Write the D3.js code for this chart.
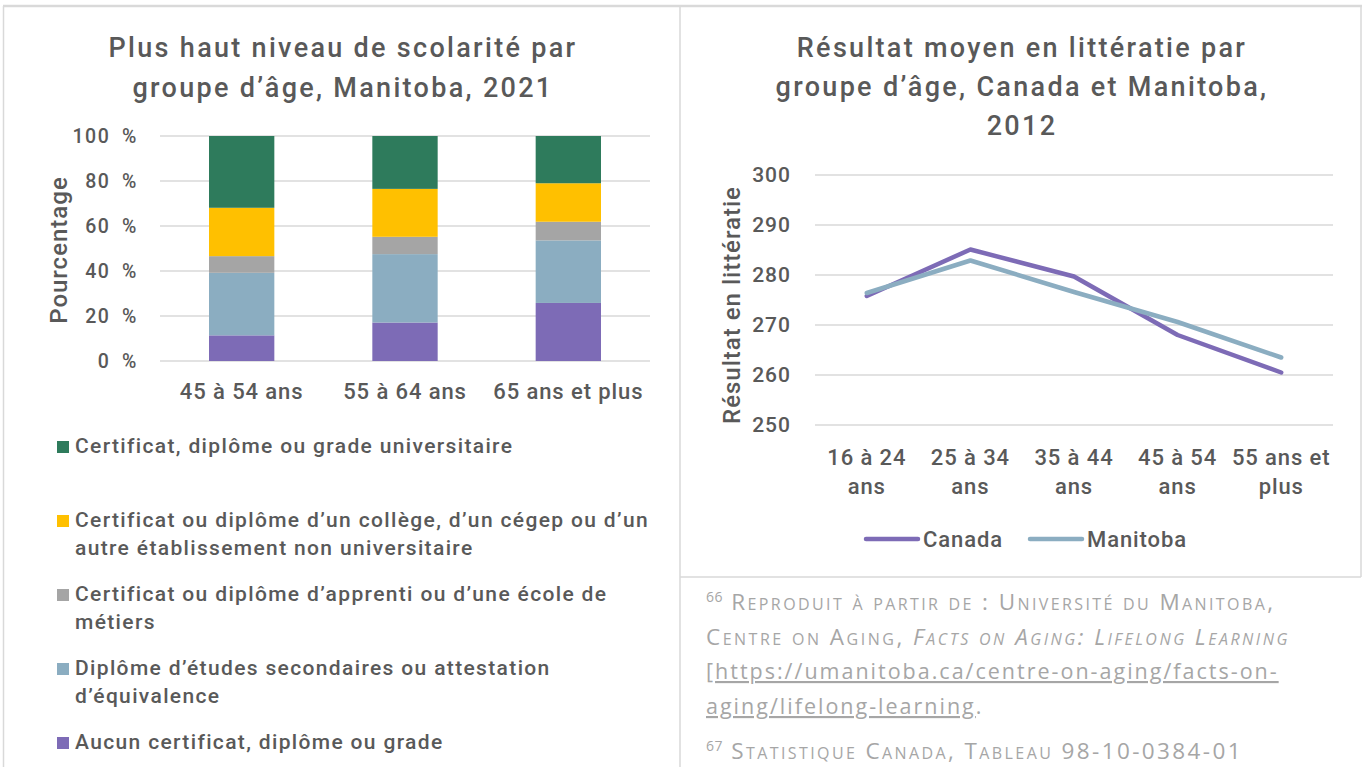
<!DOCTYPE html>
<html>
<head>
<meta charset="utf-8">
<script src="https://cdn.jsdelivr.net/npm/d3@7"></script>
<style>
  body { margin: 0; background: #fff; }
  svg { display: block; }
  .chart text { font-family: Roboto, "DejaVu Sans", sans-serif; font-weight: 500; fill: #595959; }
  .note text { font-family: "Open Sans", Lato, sans-serif; fill: #a6a6a6; }
</style>
</head>
<body>
<div id="chart-area"></div>
<script>
// Left chart: highest education level by age group, Manitoba 2021 (percent)
const ageGroups = ["45 à 54 ans", "55 à 64 ans", "65 ans et plus"];
const levelColors = ["#7d6bb6", "#8badc1", "#a5a5a5", "#ffc000", "#2e7b5c"];
const aucun = [11.4, 17.1, 25.8];
const secondaire = [27.8, 30.4, 27.8];
const apprenti = [7.4, 7.7, 8.3];
const college = [21.5, 21.3, 17.1];
const universite = [31.9, 23.5, 21.0];
const pctTicks = [0, 20, 40, 60, 80, 100];
// legend lines (top to bottom, wrapped as in the original)
const legendLines = [
  ["Certificat, diplôme ou grade universitaire"],
  ["Certificat ou diplôme d’un collège, d’un cégep ou d’un", "autre établissement non universitaire"],
  ["Certificat ou diplôme d’apprenti ou d’une école de", "métiers"],
  ["Diplôme d’études secondaires ou attestation", "d’équivalence"],
  ["Aucun certificat, diplôme ou grade"]
];

// Right chart: mean literacy score by age group, 2012
const litGroups = ["16 à 24 ans", "25 à 34 ans", "35 à 44 ans", "45 à 54 ans", "55 ans et plus"];
const litLabels = [["16 à 24", "ans"], ["25 à 34", "ans"], ["35 à 44", "ans"], ["45 à 54", "ans"], ["55 ans et", "plus"]];
const canada = [275.8, 285.1, 279.7, 268.0, 260.5];
const manitoba = [276.4, 282.9, 276.6, 270.6, 263.5];
const litTicks = [250, 260, 270, 280, 290, 300];

const W = 1363, H = 767;
const GRID = "#d9d9d9", BORDER = "#d9d9d9";

const svg = d3.select("#chart-area").append("svg")
  .attr("width", W)
  .attr("height", H);

// panel borders
const borders = svg.append("g")
  .attr("fill", "none")
  .attr("stroke", BORDER)
  .attr("stroke-width", 1.5);
borders.append("line").attr("x1", 3).attr("x2", 1362).attr("y1", 6).attr("y2", 6).attr("stroke-width", 2.5);
borders.append("line").attr("x1", 3.5).attr("x2", 3.5).attr("y1", 6).attr("y2", H);
borders.append("line").attr("x1", 680).attr("x2", 680).attr("y1", 6).attr("y2", H);
borders.append("line").attr("x1", 1361).attr("x2", 1361).attr("y1", 6).attr("y2", 577);
borders.append("line").attr("x1", 680).attr("x2", 1361).attr("y1", 577).attr("y2", 577);

// ---------- left chart ----------
const left = svg.append("g").attr("class", "chart");

left.selectAll(".title")
  .data(["Plus haut niveau de scolarité par", "groupe d’âge, Manitoba, 2021"])
  .enter().append("text")
  .attr("x", 343)
  .attr("y", (d, i) => 57 + i * 40)
  .attr("text-anchor", "middle")
  .attr("font-size", "27px")
  .attr("letter-spacing", "2.3px")
  .text(d => d);

const x = d3.scaleBand()
  .domain(ageGroups)
  .range([160, 650])
  .paddingInner(0.6)
  .paddingOuter(0.3);

const y = d3.scaleLinear()
  .domain([0, 100])
  .range([361, 136]);

left.append("g")
  .selectAll("line")
  .data(pctTicks)
  .enter().append("line")
  .attr("x1", 160).attr("x2", 650)
  .attr("y1", d => y(d)).attr("y2", d => y(d))
  .attr("stroke", GRID)
  .attr("stroke-width", 1.5);

const yAxisL = left.append("g")
  .attr("transform", "translate(160,0)")
  .call(d3.axisLeft(y).tickValues(pctTicks).tickSize(0).tickPadding(22).tickFormat(d => d + "\u2002%"));
yAxisL.select(".domain").remove();
yAxisL.selectAll("text").attr("font-size", "19.5px").attr("letter-spacing", "1.6px");

const xAxisL = left.append("g")
  .attr("transform", "translate(0,361)")
  .call(d3.axisBottom(x).tickSize(0).tickPadding(22));
xAxisL.select(".domain").remove();
xAxisL.selectAll("text").attr("font-size", "22px").attr("letter-spacing", "0.9px");
left.selectAll(".tick text").attr("fill", "#595959").attr("font-family", null);

left.append("text")
  .attr("transform", "translate(67,250) rotate(-90)")
  .attr("text-anchor", "middle")
  .attr("font-size", "24px")
  .attr("letter-spacing", "1px")
  .text("Pourcentage");

const series = [aucun, secondaire, apprenti, college, universite];
const stackData = ageGroups.map((g, i) => {
  const row = { group: g };
  series.forEach((s, k) => { row[k] = s[i]; });
  return row;
});
const stacked = d3.stack().keys(d3.range(series.length))(stackData);

left.append("g")
  .selectAll("g")
  .data(stacked)
  .enter().append("g")
  .attr("fill", (d, k) => levelColors[k])
  .selectAll("rect")
  .data(d => d)
  .enter().append("rect")
  .attr("x", d => x(d.data.group))
  .attr("width", x.bandwidth())
  .attr("y", d => y(d[1]))
  .attr("height", d => y(d[0]) - y(d[1]));

const legendL = left.append("g");
const legendOrder = [4, 3, 2, 1, 0];
legendOrder.forEach((k, i) => {
  const row = legendL.append("g")
    .attr("transform", `translate(57,${453 + i * 74})`);
  row.append("rect")
    .attr("y", -12)
    .attr("width", 12)
    .attr("height", 12)
    .attr("fill", levelColors[k]);
  row.selectAll("text")
    .data(legendLines[i])
    .enter().append("text")
    .attr("x", 18)
    .attr("y", (d, j) => j * 28)
    .attr("font-size", "21px")
    .attr("letter-spacing", "1.35px")
    .text(d => d);
});

// ---------- right chart ----------
const right = svg.append("g").attr("class", "chart");

right.selectAll(".title")
  .data(["Résultat moyen en littératie par", "groupe d’âge, Canada et Manitoba,", "2012"])
  .enter().append("text")
  .attr("x", 1022)
  .attr("y", (d, i) => 57 + i * 39)
  .attr("text-anchor", "middle")
  .attr("font-size", "27px")
  .attr("letter-spacing", "2.3px")
  .text(d => d);

const x2 = d3.scalePoint()
  .domain(litGroups)
  .range([815, 1333])
  .padding(0.5);

const y2 = d3.scaleLinear()
  .domain([250, 300])
  .range([425, 175]);

right.append("g")
  .selectAll("line")
  .data(litTicks)
  .enter().append("line")
  .attr("x1", 815).attr("x2", 1333)
  .attr("y1", d => y2(d)).attr("y2", d => y2(d))
  .attr("stroke", GRID)
  .attr("stroke-width", 1.5);

const yAxisR = right.append("g")
  .attr("transform", "translate(815,0)")
  .call(d3.axisLeft(y2).tickValues(litTicks).tickSize(0).tickPadding(24));
yAxisR.select(".domain").remove();
yAxisR.selectAll("text").attr("font-size", "21px").attr("letter-spacing", "1px")
  .attr("fill", "#595959").attr("font-family", null);

const xTicksR = right.append("g")
  .selectAll("text")
  .data(litGroups)
  .enter().append("text")
  .attr("x", d => x2(d))
  .attr("y", 465)
  .attr("text-anchor", "middle")
  .attr("font-size", "22px")
  .attr("letter-spacing", "0.9px");
xTicksR.selectAll("tspan")
  .data((d, i) => litLabels[i])
  .enter().append("tspan")
  .attr("x", function () { return d3.select(this.parentNode).attr("x"); })
  .attr("dy", (d, j) => j === 0 ? 0 : 29)
  .text(d => d);

right.append("text")
  .attr("transform", "translate(740,305) rotate(-90)")
  .attr("text-anchor", "middle")
  .attr("font-size", "24px")
  .attr("letter-spacing", "1px")
  .text("Résultat en littératie");

const line = d3.line()
  .x((d, i) => x2(litGroups[i]))
  .y(d => y2(d));

const lineSeries = [
  { name: "Canada", values: canada, color: "#7d6bb6" },
  { name: "Manitoba", values: manitoba, color: "#8badc1" }
];

right.append("g")
  .selectAll("path")
  .data(lineSeries)
  .enter().append("path")
  .attr("d", d => line(d.values))
  .attr("fill", "none")
  .attr("stroke", d => d.color)
  .attr("stroke-width", 4.5)
  .attr("stroke-linejoin", "round")
  .attr("stroke-linecap", "round");

const legendR = right.append("g");
lineSeries.forEach((s, i) => {
  const row = legendR.append("g")
    .attr("transform", `translate(${866 + i * 164},539)`);
  row.append("line")
    .attr("x1", 0).attr("x2", 52)
    .attr("stroke", s.color)
    .attr("stroke-width", 4.5)
    .attr("stroke-linecap", "round");
  row.append("text")
    .attr("x", 57)
    .attr("y", 8)
    .attr("font-size", "22px")
    .attr("letter-spacing", "0.9px")
    .text(s.name);
});

// ---------- footnotes ----------
const note = svg.append("g").attr("class", "note")
  .attr("font-size", "21.5px")
  .attr("letter-spacing", "2px");

const n1 = note.append("text").attr("x", 706).attr("y", 610);
n1.append("tspan").attr("font-size", "14px").attr("letter-spacing", "0.5px").attr("dy", -8).text("66");
n1.append("tspan").attr("dy", 8).attr("font-size", "22.5px").attr("letter-spacing", "2.4px")
  .style("font-variant", "small-caps").text(" Reproduit à partir de : Université du Manitoba,");

const n2 = note.append("text").attr("x", 706).attr("y", 645)
  .attr("font-size", "22.5px").attr("letter-spacing", "2.5px")
  .style("font-variant", "small-caps");
n2.append("tspan").text("Centre on Aging, ");
n2.append("tspan").attr("font-style", "italic").text("Facts on Aging: Lifelong Learning");

const n3 = note.append("text").attr("x", 706).attr("y", 679);
n3.append("tspan").text("[");
n3.append("tspan").attr("text-decoration", "underline").text("https://umanitoba.ca/centre-on-aging/facts-on-");

const n4 = note.append("text").attr("x", 706).attr("y", 714);
n4.append("tspan").attr("text-decoration", "underline").text("aging/lifelong-learning");
n4.append("tspan").text(".");

const n5 = note.append("text").attr("x", 706).attr("y", 759);
n5.append("tspan").attr("font-size", "14px").attr("letter-spacing", "0.5px").attr("dy", -8).text("67");
n5.append("tspan").attr("dy", 8).attr("font-size", "22.5px").attr("letter-spacing", "2.4px")
  .style("font-variant", "small-caps").text(" Statistique Canada, Tableau 98-10-0384-01");
</script>
</body>
</html>
